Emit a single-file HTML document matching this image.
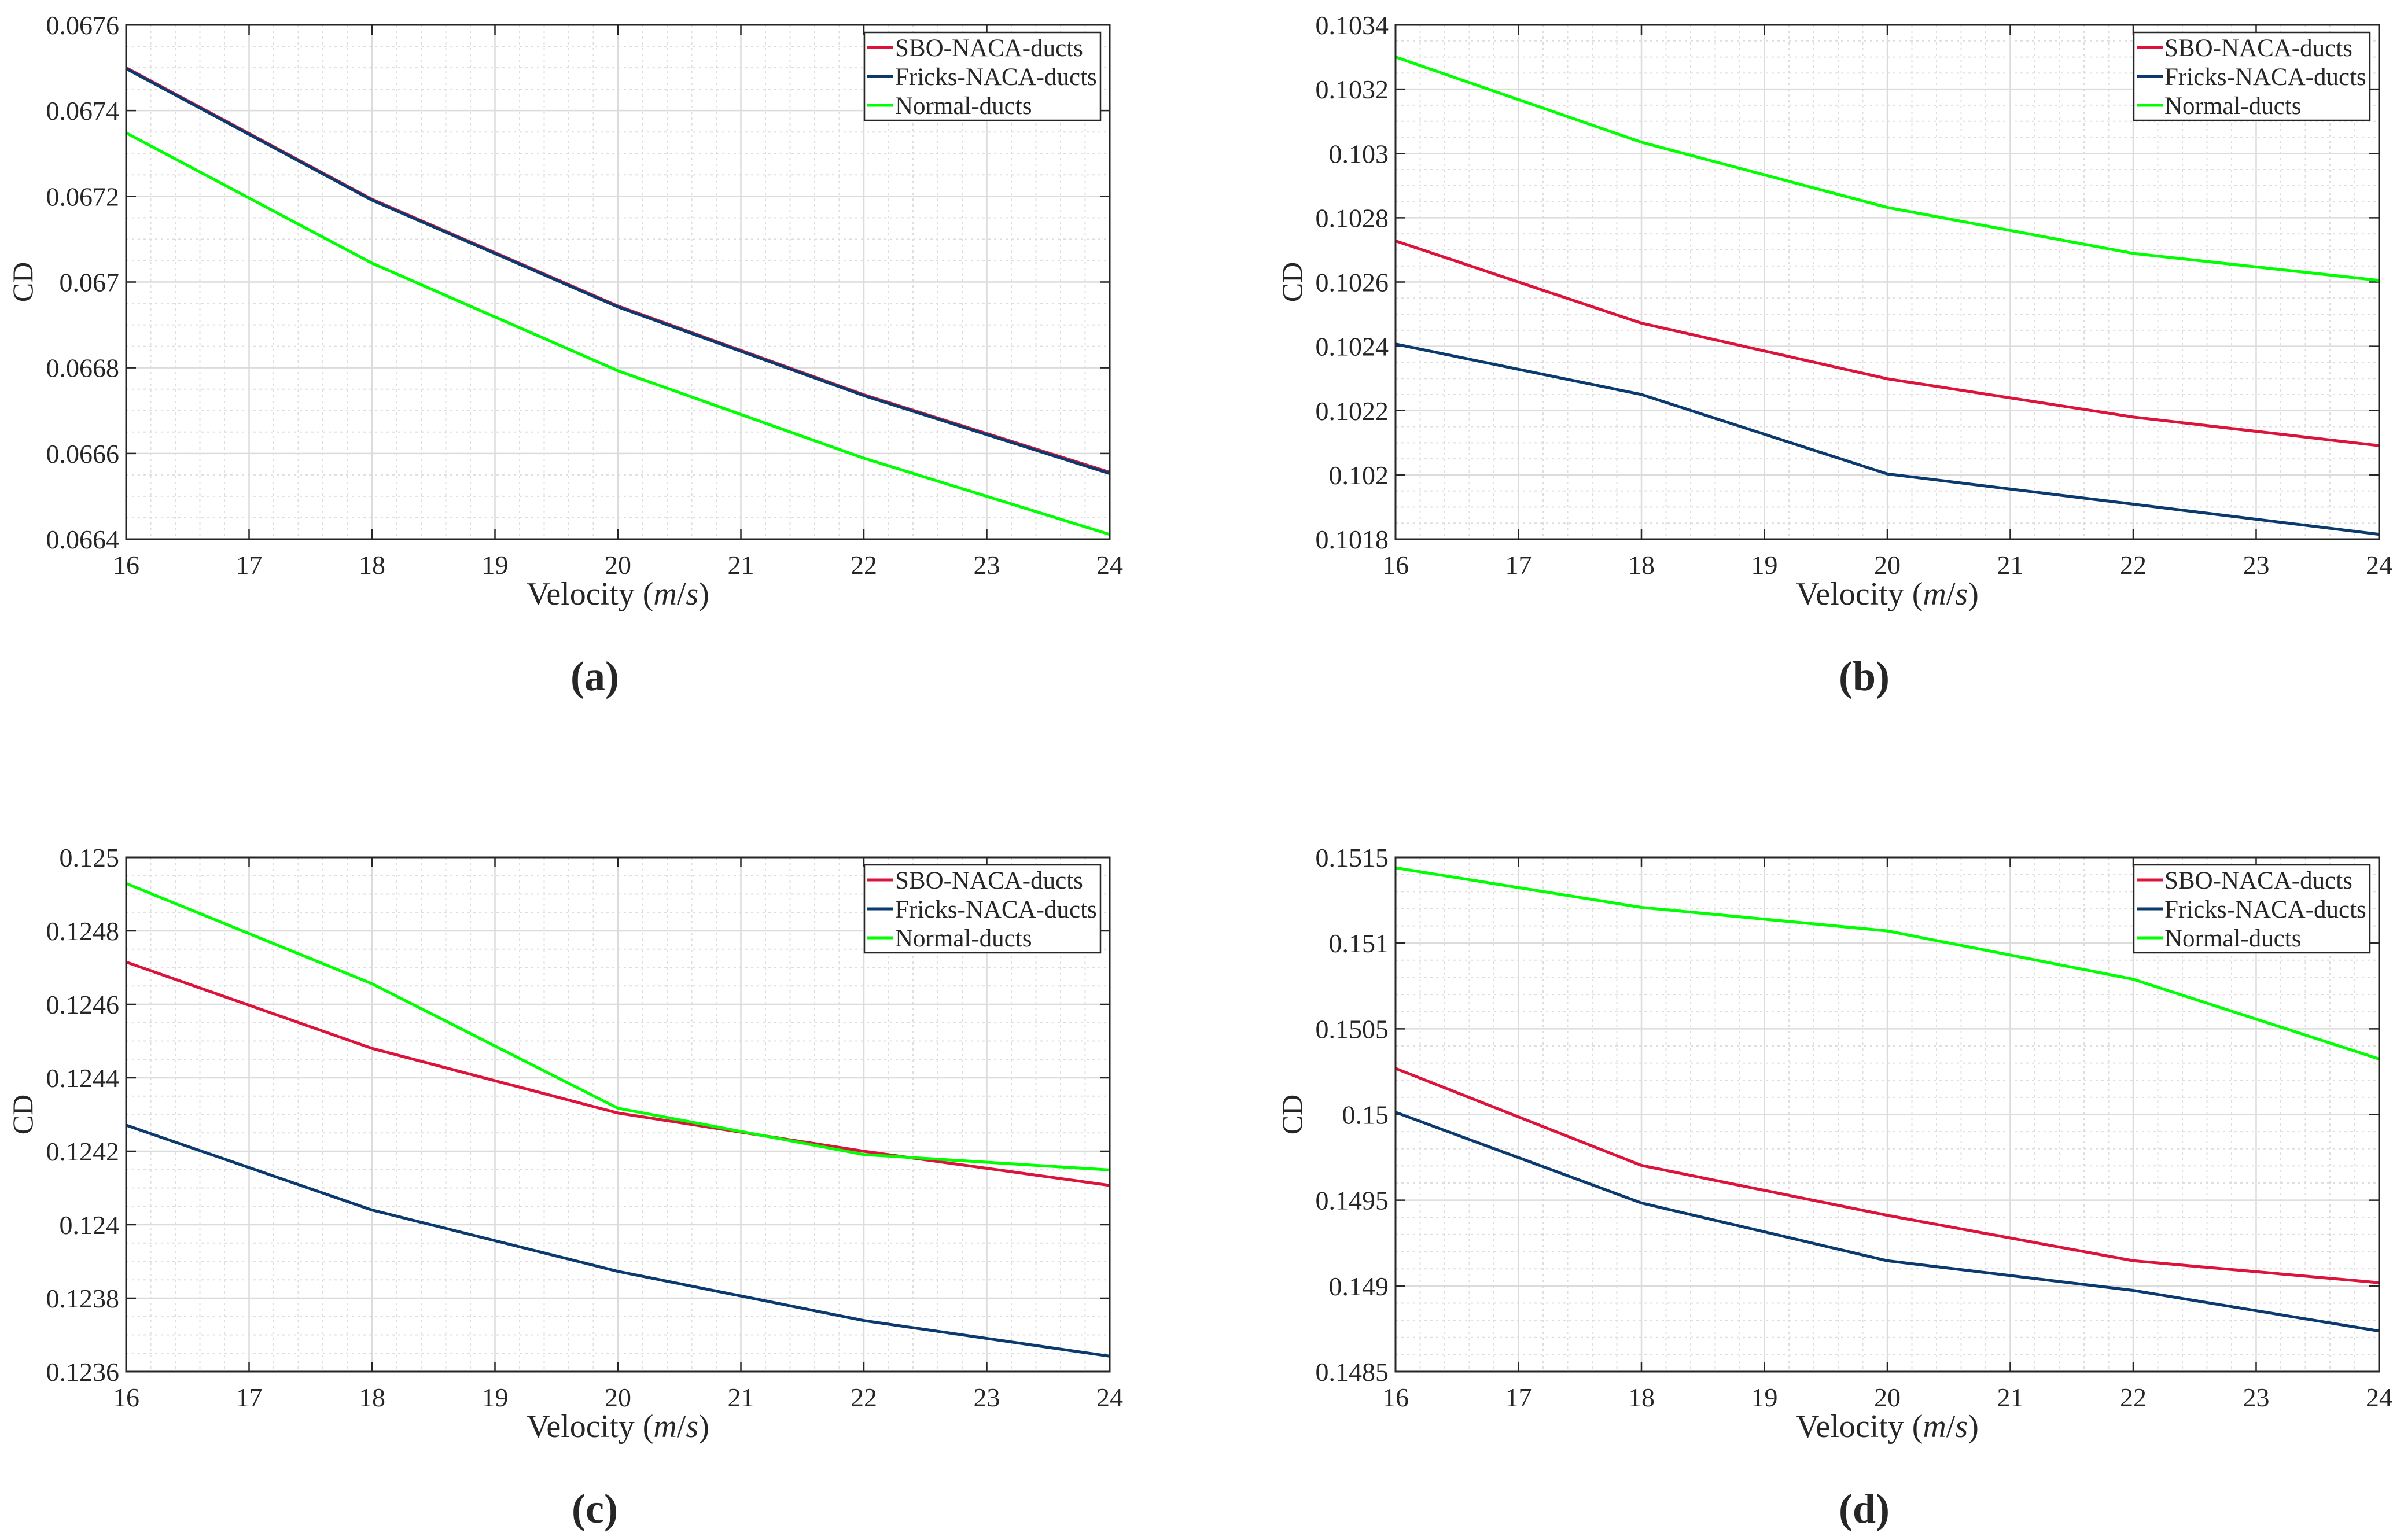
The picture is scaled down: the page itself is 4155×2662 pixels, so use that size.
<!DOCTYPE html>
<html><head><meta charset="utf-8"><style>
html,body{margin:0;padding:0;background:#fff;}
svg{display:block;}
text{font-family:"Liberation Serif","DejaVu Serif",serif;fill:#262626;}
</style></head>
<body>
<svg id="fig" width="4155" height="2662" viewBox="0 0 4155 2662" xmlns="http://www.w3.org/2000/svg"></svg>
<script>
const velocities = [16, 18, 20, 22, 24];
const seriesNames = ["SBO-NACA-ducts", "Fricks-NACA-ducts", "Normal-ducts"];
const xTicks = [16, 17, 18, 19, 20, 21, 22, 23, 24];

const aSBO = [0.06750, 0.067193, 0.066944, 0.066737, 0.066556];
const aFricks = [0.067498, 0.067191, 0.066942, 0.066735, 0.066553];
const aNormal = [0.067348, 0.067044, 0.066793, 0.066589, 0.066411];
const aYTicks = ["0.0664","0.0666","0.0668","0.067","0.0672","0.0674","0.0676"];

const bSBO = [0.102728, 0.102472, 0.102299, 0.102180, 0.102091];
const bFricks = [0.102407, 0.102250, 0.102003, 0.101909, 0.101815];
const bNormal = [0.103300, 0.103035, 0.102832, 0.102689, 0.102605];
const bYTicks = ["0.1018","0.102","0.1022","0.1024","0.1026","0.1028","0.103","0.1032","0.1034"];

const cSBO = [0.124715, 0.124480, 0.124304, 0.124200, 0.124107];
const cFricks = [0.124271, 0.124040, 0.123873, 0.123739, 0.123642];
const cNormal = [0.124929, 0.124656, 0.124317, 0.124191, 0.124149];
const cYTicks = ["0.1236","0.1238","0.124","0.1242","0.1244","0.1246","0.1248","0.125"];

const dSBO = [0.150269, 0.149703, 0.149412, 0.149147, 0.149019];
const dFricks = [0.150013, 0.149484, 0.149147, 0.148974, 0.148737];
const dNormal = [0.151439, 0.151208, 0.151071, 0.150789, 0.150324];
const dYTicks = ["0.1485","0.149","0.1495","0.15","0.1505","0.151","0.1515"];

const colors = ["#dc143c", "#0b3a6e", "#00ff00"];
const NS = "http://www.w3.org/2000/svg";
const svg = document.getElementById("fig");

function mk(tag, attrs, parent){
  const e = document.createElementNS(NS, tag);
  for (const k in attrs) e.setAttribute(k, attrs[k]);
  (parent||svg).appendChild(e);
  return e;
}

function panel(id, L, T, yTicks, minorDiv, series, caption){
  const W = 1700, H = 889, R = L + W, B = T + H;
  const g = mk("g", {});
  
  
  const yMin = parseFloat(yTicks[0]), yMax = parseFloat(yTicks[yTicks.length-1]);
  const xMin = xTicks[0], xMax = xTicks[xTicks.length-1];
  const sx = v => L + (v - xMin) / (xMax - xMin) * W;
  const sy = v => B - (v - yMin) / (yMax - yMin) * H;
  const xStep = (xTicks[1]-xTicks[0]) / 5;
  for (let v = xMin; v <= xMax + 1e-9; v += xStep) {
    const x = sx(v);
    const ln = mk("line", {x1:x, x2:x, y1:T, y2:B, stroke:"#dedede", "stroke-width":2, "stroke-dasharray":"4,6"}, g);
    
    
  }
  const yStep = (parseFloat(yTicks[1]) - parseFloat(yTicks[0])) / minorDiv;
  for (let v = yMin; v <= yMax + 1e-12; v += yStep) {
    const y = sy(v);
    const ln = mk("line", {x1:L, x2:R, y1:y, y2:y, stroke:"#dedede", "stroke-width":2, "stroke-dasharray":"4,6"}, g);
    
    
  }
  xTicks.forEach(v => {
    const x = sx(v);
    const ln = mk("line", {x1:x, x2:x, y1:T, y2:B, stroke:"#dcdcdc", "stroke-width":2.5}, g);
    
    
    mk("line", {x1:x, x2:x, y1:B, y2:B-17, stroke:"#262626", "stroke-width":2.5}, g);
    mk("line", {x1:x, x2:x, y1:T, y2:T+17, stroke:"#262626", "stroke-width":2.5}, g);
    const t = mk("text", {x:x, y:B+60, "font-size":46, "text-anchor":"middle"}, g);
    t.textContent = v;
    
    
  });
  yTicks.forEach(s => {
    const y = sy(parseFloat(s));
    const ln = mk("line", {x1:L, x2:R, y1:y, y2:y, stroke:"#dcdcdc", "stroke-width":2.5}, g);
    
    
    mk("line", {x1:L, x2:L+17, y1:y, y2:y, stroke:"#262626", "stroke-width":2.5}, g);
    mk("line", {x1:R, x2:R-17, y1:y, y2:y, stroke:"#262626", "stroke-width":2.5}, g);
    const t = mk("text", {x:L-12, y:y+16, "font-size":46, "text-anchor":"end"}, g);
    t.textContent = s;
    
    
  });
  series.forEach((vals, i) => {
    const pts = vals.map((v, j) => sx(velocities[j]) + "," + sy(v)).join(" ");
    const pl = mk("polyline", {points:pts, fill:"none", stroke:colors[i], "stroke-width":5, "stroke-linejoin":"round"}, g);
    
    
  });
  const box = mk("rect", {x:L, y:T, width:W, height:H, fill:"none", stroke:"#262626", "stroke-width":3}, g);
  
  
  const xl = mk("text", {x:L+W/2, y:B+113, "font-size":56, "text-anchor":"middle"}, g);
  xl.innerHTML = 'Velocity (<tspan font-style="italic">m</tspan>/<tspan font-style="italic">s</tspan>)';
  
  
  const yl = mk("text", {x:0, y:0, "font-size":50, "text-anchor":"middle", transform:"translate(" + (L-162) + "," + (T+H/2) + ") rotate(-90)"}, g);
  yl.textContent = "CD";
  
  
  const cap = mk("text", {x:L+W/2-40, y:B+261, "font-size":72, "font-weight":"bold", "text-anchor":"middle", fill:"#000"}, g);
  cap.textContent = "(" + caption + ")";
  
  
  const lg = mk("g", {}, g);
  
  
  const lx = R - 424, ly = T + 13;
  mk("rect", {x:lx, y:ly, width:408, height:152, fill:"#fff", stroke:"#262626", "stroke-width":2.5}, lg);
  seriesNames.forEach((n, i) => {
    const yy = ly + 26 + i*50;
    const e = mk("g", {}, lg);
    
    
    mk("line", {x1:lx+5, x2:lx+50, y1:yy, y2:yy, stroke:colors[i], "stroke-width":5}, e);
    const t = mk("text", {x:lx+53, y:yy+15, "font-size":43, fill:"#000"}, e);
    t.textContent = n;
  });
}

panel("a", 218, 43, aYTicks, 4, [aSBO, aFricks, aNormal], "a");
panel("b", 2412, 43, bYTicks, 4, [bSBO, bFricks, bNormal], "b");
panel("c", 218, 1482, cYTicks, 4, [cSBO, cFricks, cNormal], "c");
panel("d", 2412, 1482, dYTicks, 5, [dSBO, dFricks, dNormal], "d");
</script>
</body></html>
